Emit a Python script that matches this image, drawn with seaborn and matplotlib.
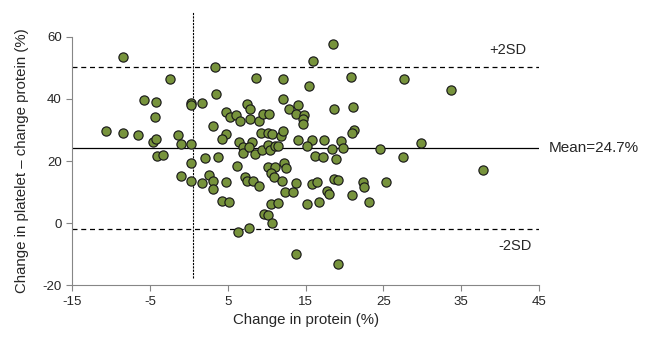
import numpy as np
import pandas as pd
import matplotlib
matplotlib.use("Agg")
import matplotlib.pyplot as plt
import seaborn as sns

sns.set_style("ticks")
plt.rcParams['font.family'] = ['Liberation Sans', 'DejaVu Sans']
plt.rcParams['axes.unicode_minus'] = False

# Valores (variação da proteína vs diferença)
change_protein = [
    -8.5, 3.3, -2.5, 3.5, -5.8, -4.3, 0.3, 0.3, 1.7, -4.4,
    -10.6, -8.5, -6.5, 3.1, -1.4, -4.6, -4.2, -1.0, 0.3,
    18.5, 16.0, 8.6, 12.1, 15.4, 20.8, 12.1, 7.5, 7.9, 14.0,
    12.9, 18.7, 21.1, 4.7, 5.3, 6.1, 6.6, 7.8, 9.0, 9.5,
    10.3, 13.8, 14.8, 14.6, 14.7, 4.7, 4.2, 9.2, 10.2, 10.7,
    11.8, 12.1, 6.4, 8.1, 14.0, 15.8, 17.3, 19.5, 21.2, 21.0,
    6.9, 6.9, 7.7, 8.5, 9.4, 10.2, 10.4, 11.0, 11.4, 15.2,
    18.4, 19.8, 2.1, 3.7, 16.2, 17.2, 18.9, 6.2, 10.2, 11.0,
    12.2, 12.5, 10.5, 10.9, 12.0, 4.8, 7.2, 7.4, 8.2, 9.0,
    13.8, 15.8, 16.4, 18.7, 19.2, 4.3, 5.2, 12.4, 13.4, 17.8,
    18.0, 20.9, 10.6, 11.4, 15.2, 16.7, 9.6, 10.1, 10.7, 6.3,
    7.7, 13.8, 19.2, 0.3, -1.0, 0.3, 1.7, 2.6, 3.1, 3.1,
    -4.1, -3.3, 27.6, 33.7, 24.6, 29.8, 27.5, 37.8, 22.4, 22.5,
    25.3, 23.1,
]
difference = [
    53.6, 50.4, 46.4, 41.6, 39.7, 39.0, 38.8, 38.2, 38.6, 34.1,
    29.8, 29.0, 28.3, 31.3, 28.4, 26.0, 27.2, 25.6, 25.4,
    57.7, 52.2, 46.7, 46.5, 44.3, 47.1, 39.9, 38.5, 36.9, 38.1,
    36.7, 36.9, 37.5, 35.8, 34.1, 34.7, 32.8, 33.5, 32.9, 35.1,
    35.2, 35.2, 34.9, 33.5, 31.9, 28.7, 27.2, 28.9, 29.0, 28.6,
    28.1, 29.8, 26.0, 26.2, 26.8, 26.7, 26.8, 26.5, 30.0, 29.1,
    24.6, 22.7, 24.6, 22.3, 23.5, 25.1, 23.5, 24.7, 24.8, 24.8,
    23.9, 24.1, 20.9, 21.3, 21.6, 21.4, 20.6, 18.5, 18.0, 18.0,
    19.3, 17.7, 16.0, 14.7, 13.6, 13.2, 14.9, 13.6, 13.5, 11.9,
    12.9, 12.5, 13.1, 14.2, 13.8, 7.0, 6.9, 9.9, 9.9, 10.2,
    9.4, 9.1, 6.1, 6.5, 6.2, 6.9, 2.8, 2.6, 0.1, -3.0,
    -1.7, -10.1, -13.2, 19.3, 15.1, 13.5, 12.9, 15.5, 13.5, 10.9,
    21.6, 21.9, 46.5, 43.0, 23.9, 25.7, 21.3, 17.2, 13.1, 11.6,
    13.3, 6.7,
]

mean_line = 24.2
upper_sd = 50.3
lower_sd = -1.9
vert_x = 0.5

df = pd.DataFrame({'protein': change_protein, 'diff': difference})

fig = plt.figure(figsize=(6.51, 3.39), dpi=100)
ax = fig.add_axes([0.111, 0.159, 0.717, 0.732])

sns.scatterplot(data=df, x='protein', y='diff', ax=ax, s=44,
                color='#77933C', edgecolor='#1a1a1a', linewidth=0.85, zorder=3)

# Linhas de média e ±2SD
ax.axhline(mean_line, color='black', lw=0.9, zorder=2)
ax.axhline(upper_sd, color='black', lw=0.9, ls=(0, (4, 3)), zorder=2)
ax.axhline(lower_sd, color='black', lw=0.9, ls=(0, (4, 3)), zorder=2)
ax.plot([vert_x, vert_x], [-17.7, 68], color='black', lw=0.8,
        ls=(0, (2, 1)), clip_on=False, zorder=2)

ax.text(41.0, 55.8, '+2SD', ha='center', va='center', fontsize=10.5, clip_on=False)
ax.text(41.9, -7.4, '-2SD', ha='center', va='center', fontsize=10.5, clip_on=False)
ax.text(46.2, mean_line, 'Mean=24.7%', ha='left', va='center', fontsize=11, clip_on=False)

ax.set_xlim(-15, 45)
ax.set_ylim(-20, 60)
ax.set_xticks([-15, -5, 5, 15, 25, 35, 45])
ax.set_yticks([-20, 0, 20, 40, 60])
ax.set_xlabel('Change in protein (%)', fontsize=10.8)
ax.set_ylabel('Change in platelet \u2013 change protein (%)', fontsize=10.8, labelpad=10)
ax.tick_params(axis='both', labelsize=9.5, color='#868686', length=4, width=0.8)

for side in ['top', 'right']:
    ax.spines[side].set_visible(False)
for side in ['left', 'bottom']:
    ax.spines[side].set_color('#868686')
    ax.spines[side].set_linewidth(0.8)

plt.savefig('out.png', dpi=100)
plt.close()
